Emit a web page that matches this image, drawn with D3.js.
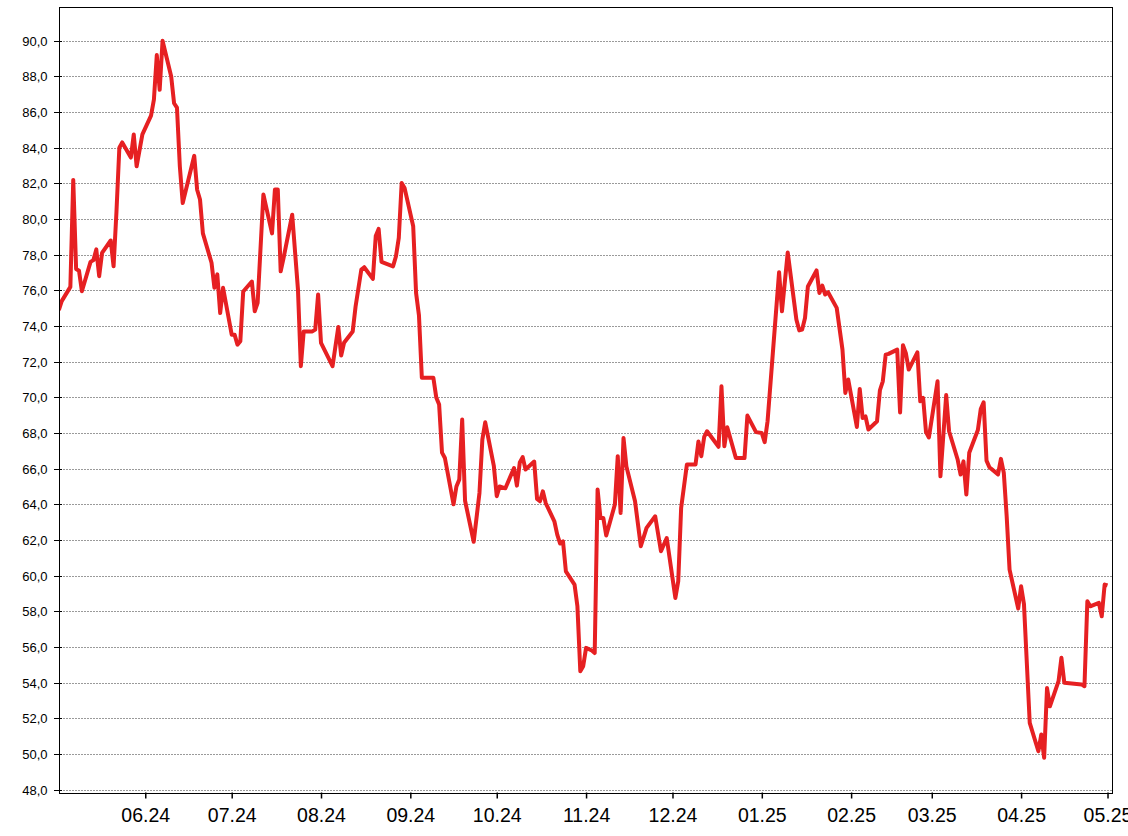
<!DOCTYPE html>
<html>
<head>
<meta charset="utf-8">
<script src="https://cdn.jsdelivr.net/npm/d3@7"></script>
<style>
  html, body { margin: 0; padding: 0; background: #fff; }
  svg { display: block; }
  text { font-family: "Liberation Sans", Arial, sans-serif; fill: #000; }
</style>
</head>
<body>
<svg id="chart" width="1128" height="836"></svg>
<script>
const dates = [
"2024-05-02","2024-05-03","2024-05-06","2024-05-07","2024-05-08","2024-05-09","2024-05-10",
"2024-05-13","2024-05-14","2024-05-15","2024-05-16","2024-05-17","2024-05-20","2024-05-21",
"2024-05-22","2024-05-23","2024-05-24","2024-05-27","2024-05-28","2024-05-29","2024-05-31",
"2024-06-03","2024-06-04","2024-06-05","2024-06-06","2024-06-07","2024-06-10","2024-06-11",
"2024-06-12","2024-06-13","2024-06-14","2024-06-18","2024-06-19","2024-06-20","2024-06-21",
"2024-06-24","2024-06-25","2024-06-26","2024-06-27","2024-06-28","2024-07-01","2024-07-02",
"2024-07-03","2024-07-04","2024-07-05","2024-07-08","2024-07-09","2024-07-10","2024-07-12",
"2024-07-15","2024-07-16","2024-07-17","2024-07-18","2024-07-19","2024-07-22","2024-07-24",
"2024-07-25","2024-07-26","2024-07-29","2024-07-30","2024-07-31","2024-08-01","2024-08-05",
"2024-08-07","2024-08-08","2024-08-09","2024-08-12","2024-08-13","2024-08-15","2024-08-16",
"2024-08-19","2024-08-20","2024-08-21","2024-08-22","2024-08-26","2024-08-27","2024-08-28",
"2024-08-29","2024-08-30","2024-09-02","2024-09-03","2024-09-04","2024-09-05","2024-09-09",
"2024-09-10","2024-09-11","2024-09-12","2024-09-13","2024-09-16","2024-09-17","2024-09-18",
"2024-09-19","2024-09-20","2024-09-23","2024-09-25","2024-09-26","2024-09-27","2024-09-30",
"2024-10-01","2024-10-02","2024-10-04","2024-10-07","2024-10-08","2024-10-09","2024-10-10",
"2024-10-11","2024-10-14","2024-10-15","2024-10-16","2024-10-17","2024-10-18","2024-10-21",
"2024-10-22","2024-10-23","2024-10-24","2024-10-25","2024-10-28","2024-10-29","2024-10-30",
"2024-10-31","2024-11-01","2024-11-03","2024-11-04","2024-11-05","2024-11-06","2024-11-07",
"2024-11-08","2024-11-11","2024-11-12","2024-11-13","2024-11-14","2024-11-15","2024-11-18",
"2024-11-20","2024-11-22","2024-11-25","2024-11-27","2024-11-29","2024-12-02","2024-12-03",
"2024-12-04","2024-12-06","2024-12-09","2024-12-10","2024-12-11","2024-12-12","2024-12-13",
"2024-12-17","2024-12-18","2024-12-19","2024-12-20","2024-12-23","2024-12-26","2024-12-27",
"2024-12-30","2025-01-01","2025-01-02","2025-01-03","2025-01-07","2025-01-08","2025-01-10",
"2025-01-13","2025-01-14","2025-01-15","2025-01-16","2025-01-17","2025-01-20","2025-01-21",
"2025-01-22","2025-01-23","2025-01-24","2025-01-27","2025-01-29","2025-01-30","2025-01-31",
"2025-02-03","2025-02-04","2025-02-05","2025-02-06","2025-02-07","2025-02-10","2025-02-11",
"2025-02-12","2025-02-13","2025-02-14","2025-02-17","2025-02-18","2025-02-19","2025-02-20",
"2025-02-21","2025-02-24","2025-02-25","2025-02-26","2025-02-27","2025-02-28","2025-03-03",
"2025-03-04","2025-03-06","2025-03-07","2025-03-10","2025-03-11","2025-03-12","2025-03-13",
"2025-03-14","2025-03-17","2025-03-18","2025-03-19","2025-03-20","2025-03-21","2025-03-24",
"2025-03-25","2025-03-26","2025-03-27","2025-03-28","2025-03-31","2025-04-01","2025-04-02",
"2025-04-04","2025-04-07","2025-04-08","2025-04-09","2025-04-10","2025-04-11","2025-04-14",
"2025-04-15","2025-04-16","2025-04-22","2025-04-23","2025-04-24","2025-04-25","2025-04-28",
"2025-04-29","2025-04-30","2025-05-01"
];
const values = [
74.9,75.4,76.2,82.2,77.2,77.1,75.95,
77.6,77.7,78.3,76.8,78.1,78.8,77.35,
80.4,84.0,84.3,83.45,84.75,82.96,84.75,
85.8,86.7,89.2,87.25,90.0,88.0,86.5,
86.25,82.96,80.9,83.55,81.65,81.1,79.2,
77.55,76.15,76.9,74.73,76.15,73.52,73.52,
72.96,73.15,75.94,76.5,74.83,75.3,81.38,
79.2,81.66,81.66,77.07,77.82,80.25,76.05,
71.75,73.7,73.7,73.8,75.77,73.06,71.75,
73.95,72.35,73.06,73.7,75.1,77.17,77.3,
76.65,79.05,79.45,77.6,77.35,77.9,78.95,
82.03,81.75,79.6,75.85,74.6,71.1,71.1,
70.0,69.6,66.9,66.6,64.0,65.0,65.4,
68.76,64.2,61.9,64.64,67.63,68.6,66.14,
64.46,65.0,64.9,66.04,65.05,66.35,66.65,
65.95,66.4,64.3,64.17,64.73,64.07,63.05,
62.3,61.8,61.92,60.24,59.5,58.28,54.64,
54.92,55.95,55.8,55.66,64.83,63.23,63.23,
62.25,63.99,66.7,63.52,67.72,66.13,64.17,
61.65,62.68,63.33,61.37,62.11,58.75,59.69,
63.79,66.23,66.23,67.53,66.7,67.78,68.1,
67.23,70.62,67.26,68.32,66.6,66.6,68.98,
68.05,68.0,67.49,68.66,77.02,74.83,78.13,
74.37,73.76,73.8,74.45,76.22,77.12,75.85,
76.27,75.77,75.9,75.02,72.68,70.25,71.0,
68.34,70.47,68.84,68.93,68.2,68.66,70.4,
70.9,72.4,72.44,72.68,69.15,72.93,72.48,
71.56,72.53,69.78,69.97,68.05,67.75,70.9,
65.57,70.13,68.1,66.5,65.67,66.41,64.55,
66.89,68.17,69.34,69.72,66.45,66.08,65.68,
66.55,65.76,63.33,60.34,58.16,59.4,58.4,
51.74,50.15,51.09,49.78,53.7,52.67,54.08,
55.39,53.99,53.9,53.8,58.56,58.28,58.47,
57.72,59.5,59.45
];
const yTicks = [48,50,52,54,56,58,60,62,64,66,68,70,72,74,76,78,80,82,84,86,88,90];
const xTickMonths = ["2024-06-01","2024-07-01","2024-08-01","2024-09-01","2024-10-01","2024-11-01",
  "2024-12-01","2025-01-01","2025-02-01","2025-03-01","2025-04-01","2025-05-01"];
const xDomain = ["2024-05-02T05:30:00Z","2025-05-02T17:30:00Z"];
const yDomain = [47.78, 91.87];

(function () {
const W = 1128, H = 836;
const pLeft = 59.5, pRight = 1112.5, pTop = 7.5, pBottom = 793.5;

const parse = d3.utcParse("%Y-%m-%d");
const data = dates.map((d, i) => ({ date: parse(d), value: values[i] }));

const x = d3.scaleUtc().domain(xDomain.map(s => new Date(s))).range([pLeft, pRight]);
const y = d3.scaleLinear().domain(yDomain).range([pBottom, pTop]);

const svg = d3.select("#chart");

// gridlines
svg.append("g").selectAll("line").data(yTicks).join("line")
  .attr("x1", pLeft).attr("x2", pRight)
  .attr("y1", d => Math.round(y(d)) + 0.5).attr("y2", d => Math.round(y(d)) + 0.5)
  .attr("stroke", "#9a9a9a").attr("stroke-width", 1)
  .attr("stroke-dasharray", "2,1").attr("shape-rendering", "crispEdges");

// line
svg.append("clipPath").attr("id", "plotclip").append("rect")
  .attr("x", pLeft).attr("y", pTop).attr("width", pRight - pLeft).attr("height", pBottom - pTop);

svg.append("path").datum(data)
  .attr("clip-path", "url(#plotclip)")
  .attr("fill", "none")
  .attr("stroke", "#e62022")
  .attr("stroke-width", 4)
  .attr("stroke-linejoin", "round")
  .attr("stroke-linecap", "butt")
  .attr("d", d3.line().x(d => x(d.date)).y(d => y(d.value)));

// border
svg.append("rect").attr("x", pLeft).attr("y", pTop)
  .attr("width", pRight - pLeft).attr("height", pBottom - pTop)
  .attr("fill", "none").attr("stroke", "#000").attr("stroke-width", 1)
  .attr("shape-rendering", "crispEdges");

// y axis
const yFmt = v => d3.format(".1f")(v).replace(".", ",");
const yAxis = d3.axisLeft(y).tickValues(yTicks).tickFormat(yFmt).tickSize(6).tickPadding(6);
const gy = svg.append("g").attr("transform", `translate(${pLeft},0)`).call(yAxis);
gy.select(".domain").remove();
gy.selectAll(".tick").attr("transform", d => `translate(0,${Math.round(y(d)) + 0.5})`);
gy.selectAll(".tick line").attr("x2", -6).attr("x1", 2).attr("stroke", "#000")
  .attr("shape-rendering", "crispEdges");
gy.selectAll(".tick text").style("font-size", "13px")
  .style("font-family", '"Liberation Sans", Arial, sans-serif').attr("fill", "#000");

// x axis
const xAxis = d3.axisBottom(x).tickValues(xTickMonths.map(s => parse(s)))
  .tickFormat(d3.utcFormat("%m.%y")).tickSize(5).tickPadding(9.5);
const gx = svg.append("g").attr("transform", `translate(0,${pBottom})`).call(xAxis);
gx.select(".domain").remove();
gx.selectAll(".tick line").attr("y1", -1).attr("y2", 5).attr("stroke", "#000").attr("stroke-width", 1.5);
gx.selectAll(".tick text").style("font-size", "19.5px")
  .style("font-family", '"Liberation Sans", Arial, sans-serif').attr("fill", "#000");
})();
</script>
</body>
</html>
